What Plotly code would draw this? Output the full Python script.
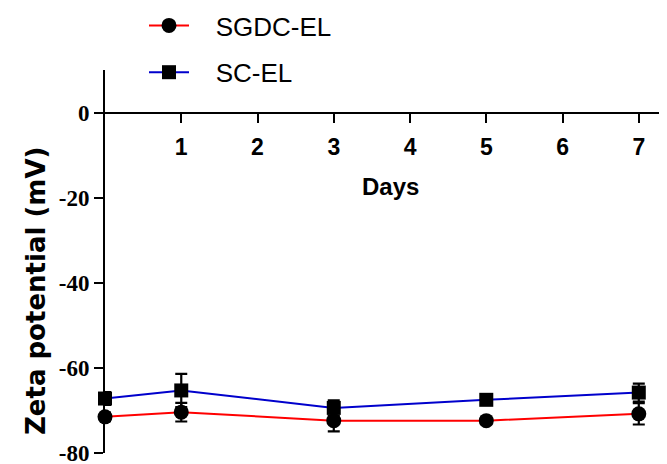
import plotly.graph_objects as go

days = [0, 1, 3, 5, 7]
sgdc_el = [-71.5, -70.4, -72.4, -72.4, -70.8]
sgdc_el_err = [1.0, 2.2, 2.5, 0.8, 2.5]
sc_el = [-67.2, -65.3, -69.4, -67.5, -65.8]
sc_el_err = [1.5, 3.9, 1.8, 0.8, 2.1]
x_ticks = [1, 2, 3, 4, 5, 6, 7]
y_ticks = [0, -20, -40, -60, -80]
y_tick_labels = ["0", "-20", "-40", "-60", "-80"]

W, H = 667, 464
OFF = 8  # page body margin
# plot area in page pixels: x 105..667, y 70..453
L = 105 - OFF
T = 70 - OFF
R = W - (667 - OFF)
B = H - (453 - OFF)
PW, PH = W - L - R, H - T - B


def px(xp):
    return (xp - OFF - L) / PW


def py(yp):
    return (H - B - (yp - OFF)) / PH


NB = "\u00a0\u00a0\u00a0"
fig = go.Figure()
fig.add_trace(go.Scatter(
    x=days, y=sgdc_el, name=NB + "SGDC-EL", mode="lines+markers",
    line=dict(color="#ff0000", width=2),
    marker=dict(symbol="circle", size=15, color="black"),
    error_y=dict(type="data", array=sgdc_el_err, color="black", thickness=2.2, width=6),
    cliponaxis=False, legendgroup="a"))
fig.add_trace(go.Scatter(
    x=days, y=sc_el, name=NB + "SC-EL", mode="lines+markers",
    line=dict(color="#0000cc", width=2),
    marker=dict(symbol="square", size=14, color="black"),
    error_y=dict(type="data", array=sc_el_err, color="black", thickness=2.2, width=6),
    cliponaxis=False, legendgroup="b"))

fig.update_layout(
    width=W, height=H,
    margin=dict(l=L, r=R, t=T, b=B, autoexpand=False),
    plot_bgcolor="white", paper_bgcolor="white",
    showlegend=True,
    legend=dict(x=px(144), y=py(2),
                xanchor="left", yanchor="top",
                font=dict(family="Liberation Sans, Arial", size=26, color="black"),
                tracegroupgap=10, itemwidth=40, bgcolor="rgba(0,0,0,0)"),
    xaxis=dict(range=[0, 7.37], tickvals=x_ticks, showline=True, linecolor="black",
               linewidth=2, ticks="outside", ticklen=9, tickwidth=2, tickcolor="black",
               showgrid=False, zeroline=False, anchor="free", position=80 / 90,
               ticklabelstandoff=5, layer="below traces", automargin=False,
               tickfont=dict(family="Liberation Sans, Arial", size=23, color="black", weight="bold")),
    yaxis=dict(range=[-80, 10], tickvals=y_ticks, ticktext=y_tick_labels, showline=True,
               linecolor="black", linewidth=2, ticks="outside", ticklen=9, tickwidth=2,
               tickcolor="black", showgrid=False, zeroline=False, layer="below traces",
               automargin=False,
               tickfont=dict(family="Liberation Serif, Times New Roman", size=23, color="black", weight="bold")),
    annotations=[
        dict(text="<b>Days</b>", xref="paper", yref="paper", x=px(390), y=py(186),
             xanchor="center", yanchor="middle", showarrow=False,
             font=dict(family="Liberation Sans, Arial", size=24, color="black")),
        dict(text="<b>Zeta potential (mV)</b>", xref="paper", yref="paper",
             x=px(36), y=py(291), xanchor="center", yanchor="middle", textangle=-90,
             showarrow=False, font=dict(family="DejaVu Sans", size=26, color="black")),
    ],
)
fig.write_html("out.html")
